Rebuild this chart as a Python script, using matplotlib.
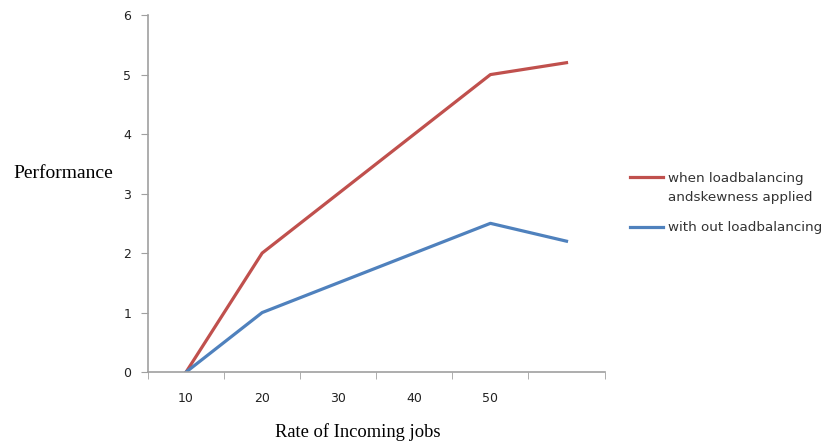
import numpy as np
import matplotlib.pyplot as plt
from matplotlib.legend_handler import HandlerLine2D

# data
categories = ['10', '20', '30', '40', '50', '']
with_lb = [0, 2, 3, 4, 5, 5.2]
without_lb = [0, 1, 1.5, 2, 2.5, 2.2]
y_ticks = [0, 1, 2, 3, 4, 5, 6]


# legend line next to the first line of a two-line label, as Excel does it
class HandlerFirstLine(HandlerLine2D):
    def create_artists(self, legend, orig, xd, yd, w, h, fontsize, trans):
        arts = super().create_artists(legend, orig, xd, yd, w, h, fontsize, trans)
        for a in arts:
            a.set_ydata(np.asarray(a.get_ydata()) + 8.0)
        return arts


fig = plt.figure(figsize=(8.27, 4.44), dpi=100)
ax = fig.add_axes([0.179, 0.162, 0.552, 0.804])

x = np.arange(len(categories))
red, = ax.plot(x, with_lb, color='#C0504D', lw=2.3,
               label='when loadbalancing\nandskewness applied')
ax.plot(x, without_lb, color='#4F81BD', lw=2.3,
        label='with out loadbalancing')

ax.set_xlim(-0.5, len(categories) - 0.5)
ax.set_ylim(0, 6)
ax.set_yticks(y_ticks)
ax.set_xticks(x)
ax.set_xticklabels(categories)
ax.set_xticks(np.arange(len(categories) + 1) - 0.5, minor=True)
ax.tick_params(axis='x', which='major', length=0, pad=14, labelsize=9, colors='#222222')
ax.tick_params(axis='x', which='minor', length=5, direction='out', color='#a0a0a0')
ax.tick_params(axis='y', length=5, direction='out', color='#a0a0a0', labelsize=9,
               labelcolor='#222222', pad=7)

for s in ['top', 'right']:
    ax.spines[s].set_visible(False)
for s in ['left', 'bottom']:
    ax.spines[s].set_color('#a0a0a0')
    ax.spines[s].set_linewidth(1.2)

ax.set_xlabel('Rate of Incoming jobs', family='Liberation Serif', fontsize=13.3, va='center')
ax.xaxis.set_label_coords(0.46, -0.168)
ax.set_ylabel('Performance', family='Liberation Serif', fontsize=14, rotation=0,
              ha='center', va='center')
ax.yaxis.set_label_coords(-0.186, 0.555)

leg = ax.legend(loc='center left', bbox_to_anchor=(1.03, 0.473), frameon=False, fontsize=9.7,
                handlelength=2.4, handletextpad=0.4, labelspacing=1.3, labelcolor='#333333',
                handler_map={red: HandlerFirstLine()})
for t in leg.get_texts():
    t.set_linespacing(1.6)

fig.savefig('out.png', dpi=100)
